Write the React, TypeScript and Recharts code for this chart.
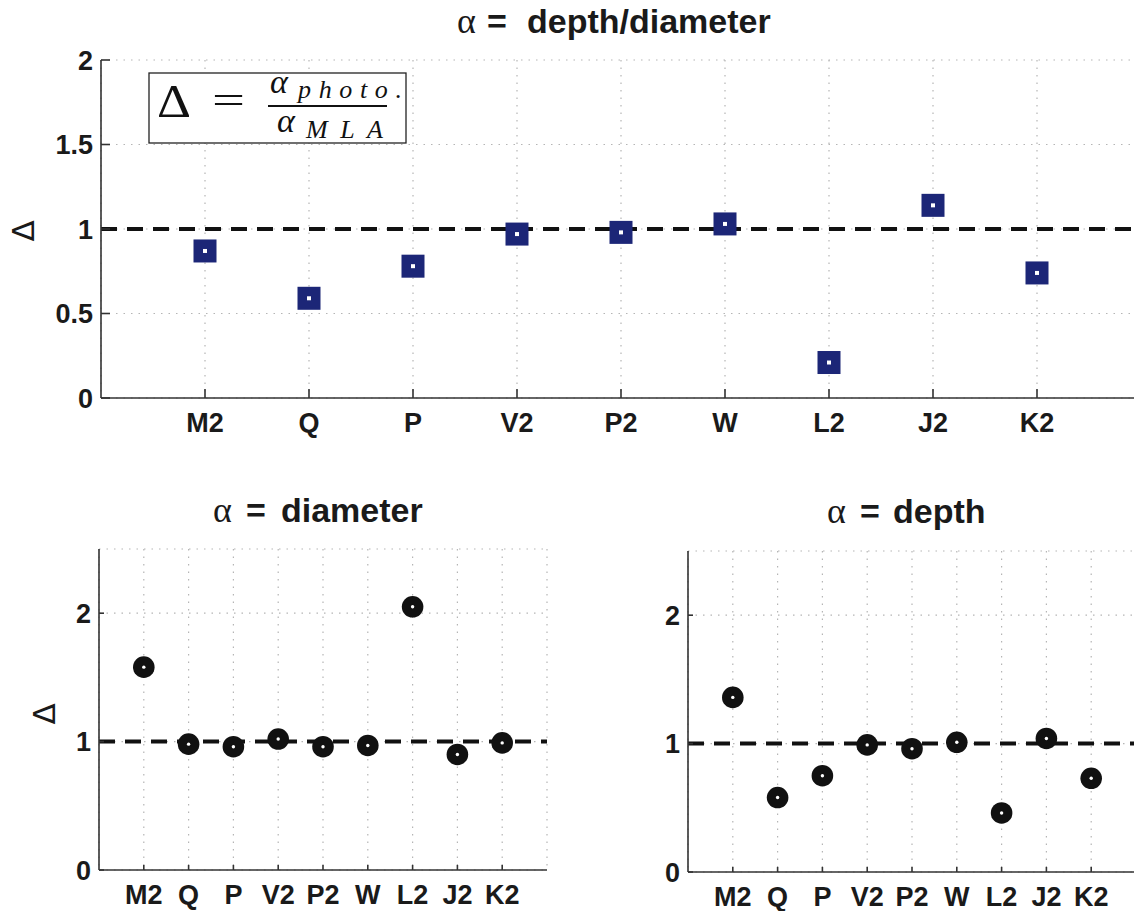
import React from "react";
import { ScatterChart, Scatter, XAxis, YAxis, CartesianGrid, ReferenceLine } from "recharts";

// stations along the x axis, in plotting order
const stations = ["M2", "Q", "P", "V2", "P2", "W", "L2", "J2", "K2"];
const stationTicks = [1, 2, 3, 4, 5, 6, 7, 8, 9];

// delta = alpha_photo / alpha_MLA
const ratioDepthDiameter = [0.87, 0.59, 0.78, 0.97, 0.98, 1.03, 0.21, 1.14, 0.74];
const ratioDiameter = [1.58, 0.98, 0.96, 1.02, 0.96, 0.97, 2.05, 0.9, 0.99];
const ratioDepth = [1.36, 0.58, 0.75, 0.99, 0.96, 1.01, 0.46, 1.04, 0.73];

const topYTicks = [0, 0.5, 1, 1.5, 2];
const bottomYTicks = [0, 1, 2];

const SANS = "'Liberation Sans', Arial, Helvetica, sans-serif";
const SERIF = "'Liberation Serif', 'Times New Roman', serif";
const AXIS = "#333";

const toPoints = (vals: number[]) => vals.map((v, i) => ({ x: i + 1, y: v, name: stations[i] }));

const NavySquare = (props: any) => {
  const { cx, cy } = props;
  if (cx == null || cy == null) return null;
  return (
    <g>
      <rect x={cx - 11.5} y={cy - 11.5} width={23} height={23} fill="#1c2677" />
      <rect x={cx - 2} y={cy - 2} width={4} height={4} fill="#fff" />
    </g>
  );
};

const BlackDot = (props: any) => {
  const { cx, cy } = props;
  if (cx == null || cy == null) return null;
  return (
    <g>
      <circle cx={cx} cy={cy} r={10.8} fill="#111" />
      <circle cx={cx} cy={cy} r={1.7} fill="#fff" />
    </g>
  );
};

function Panel({ points, yDomain, yTicks, shape, width, height, margin, tickLen }: any) {
  const tickStyle = { fill: "#1a1a1a", fontSize: 27, fontWeight: 700, fontFamily: SANS };
  const line = { stroke: AXIS, strokeWidth: 1.6 };
  return (
    <ScatterChart width={width} height={height} margin={margin}>
      <CartesianGrid stroke="#b5b5b5" strokeDasharray="1.5 6" strokeWidth={1.2} />
      <XAxis
        type="number" dataKey="x" domain={[0, 10]} ticks={stationTicks} interval={0}
        tickFormatter={(v: number) => stations[v - 1]} height={50}
        axisLine={line} tickLine={line} tickSize={-tickLen} tickMargin={tickLen + 15}
        tick={tickStyle} allowDataOverflow
      />
      <XAxis
        xAxisId="top" orientation="top" type="number" domain={[0, 10]} ticks={stationTicks}
        height={0} tick={false} axisLine={line} tickLine={line} tickSize={-tickLen}
      />
      <YAxis
        type="number" dataKey="y" domain={yDomain} ticks={yTicks} interval={0} width={60}
        axisLine={line} tickLine={line} tickSize={-tickLen} tickMargin={tickLen + 8}
        tick={tickStyle} allowDataOverflow
      />
      <YAxis
        yAxisId="right" orientation="right" type="number" domain={yDomain} ticks={yTicks}
        width={0} tick={false} axisLine={line} tickLine={line} tickSize={-tickLen}
      />
      <ReferenceLine y={1} stroke="#111" strokeWidth={4} strokeDasharray="16 10" />
      <Scatter data={points} shape={shape} isAnimationActive={false} />
    </ScatterChart>
  );
}

export default function App() {
  const boldTitle = { fontFamily: SANS, fontWeight: 700, fontSize: 34, fill: "#1a1a1a" };
  const alphaStyle = { fontFamily: SERIF, fontSize: 36, fill: "#1a1a1a" };
  return (
    <div style={{ position: "absolute", left: 0, top: 0, width: 1134, height: 911, overflow: "hidden", background: "#fff" }}>
      <div style={{ position: "absolute", left: 0, top: 0 }}>
        <Panel
          points={toPoints(ratioDepthDiameter)} yDomain={[0, 2]} yTicks={topYTicks} shape={NavySquare}
          width={1160} height={460} margin={{ top: 60, right: 19, bottom: 12, left: 41 }} tickLen={9}
        />
      </div>
      <div style={{ position: "absolute", left: 0, top: 480 }}>
        <Panel
          points={toPoints(ratioDiameter)} yDomain={[0, 2.5]} yTicks={bottomYTicks} shape={BlackDot}
          width={570} height={440} margin={{ top: 69, right: 23, bottom: 0, left: 39 }} tickLen={5}
        />
      </div>
      <div style={{ position: "absolute", left: 600, top: 480 }}>
        <Panel
          points={toPoints(ratioDepth)} yDomain={[0, 2.5]} yTicks={bottomYTicks} shape={BlackDot}
          width={560} height={445} margin={{ top: 71, right: 24, bottom: 3, left: 28 }} tickLen={5}
        />
      </div>

      {/* titles, axis labels and the formula box */}
      <svg width={1134} height={911} style={{ position: "absolute", left: 0, top: 0, pointerEvents: "none" }}>
        <text x={457} y={33} style={alphaStyle}>α</text>
        <text x={487} y={33} style={boldTitle}>=</text>
        <text x={527} y={33} style={boldTitle}>depth/diameter</text>

        <text x={213} y={522} style={alphaStyle}>α</text>
        <text x={246} y={522} style={boldTitle}>=</text>
        <text x={281} y={522} style={boldTitle}>diameter</text>

        <text x={827} y={523} style={alphaStyle}>α</text>
        <text x={860} y={523} style={boldTitle}>=</text>
        <text x={893} y={523} style={boldTitle}>depth</text>

        <text x={23} y={231} textAnchor="middle" dominantBaseline="central" transform="rotate(-90 23 231)"
          style={{ fontFamily: "'DejaVu Sans', sans-serif", fontSize: 31, fill: "#1a1a1a" }}>Δ</text>
        <text x={44} y={714} textAnchor="middle" dominantBaseline="central" transform="rotate(-90 44 714)"
          style={{ fontFamily: "'DejaVu Sans', sans-serif", fontSize: 31, fill: "#1a1a1a" }}>Δ</text>

        <rect x={149} y={73} width={257} height={70} fill="#fff" stroke="#222" strokeWidth={1.3} />
        <text x={157} y={117} textLength={34} lengthAdjust="spacingAndGlyphs"
          style={{ fontFamily: SERIF, fontSize: 46, fill: "#111" }}>Δ</text>
        <text x={212} y={114} textLength={33} lengthAdjust="spacingAndGlyphs"
          style={{ fontFamily: SERIF, fontSize: 40, fill: "#111" }}>=</text>
        <line x1={268} x2={387} y1={106} y2={106} stroke="#111" strokeWidth={2} />
        <text x={270} y={93} style={{ fontFamily: SERIF, fontStyle: "italic", fontSize: 34, fill: "#111" }}>α</text>
        <text x={298} y={98} textLength={104} lengthAdjust="spacing"
          style={{ fontFamily: SERIF, fontStyle: "italic", fontSize: 26, fill: "#111" }}>photo.</text>
        <text x={277} y={132} style={{ fontFamily: SERIF, fontStyle: "italic", fontSize: 34, fill: "#111" }}>α</text>
        <text x={306} y={138} textLength={77} lengthAdjust="spacing"
          style={{ fontFamily: SERIF, fontStyle: "italic", fontSize: 26, fill: "#111" }}>MLA</text>
      </svg>
    </div>
  );
}
